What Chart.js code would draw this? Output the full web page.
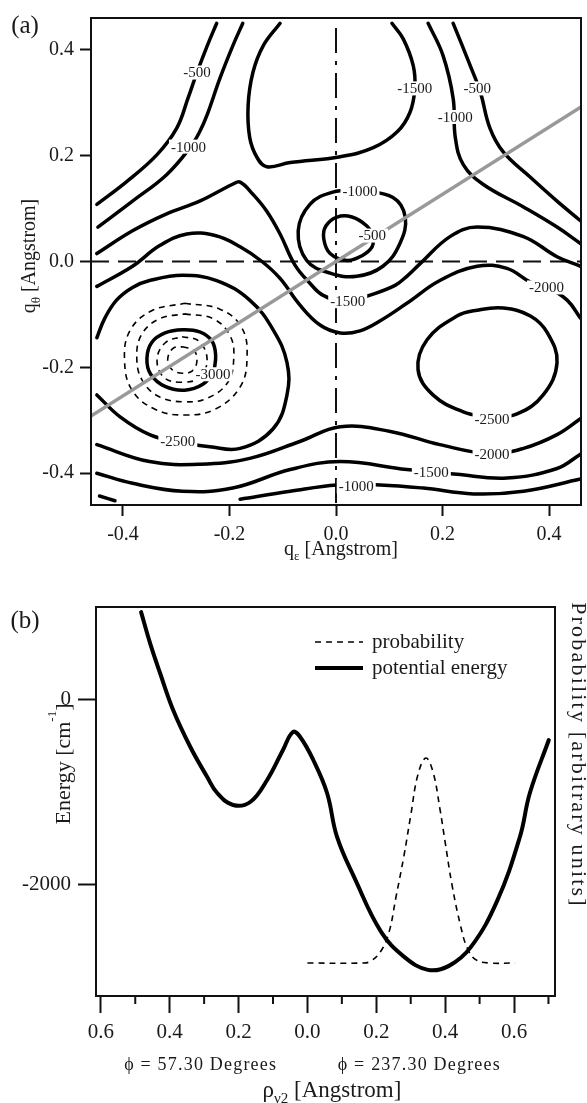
<!DOCTYPE html>
<html><head><meta charset="utf-8">
<script src="https://cdn.jsdelivr.net/npm/chart.js@4"></script>
<style>
html,body{margin:0;padding:0;background:#fff;width:587px;height:1103px;overflow:hidden}
#wa{position:absolute;left:0;top:0;width:587px;height:565px}
#wb{position:absolute;left:0;top:565px;width:587px;height:538px}
</style></head><body>
<div id="wa"><canvas id="ca" width="587" height="565"></canvas></div>
<div id="wb"><canvas id="cb" width="587" height="538"></canvas></div>
<script>
// ---------- Panel (a): contour lines, [q_eps, q_theta] in Angstrom ----------
const contourNeg500Left = [[-0.449,0.108],[-0.393,0.151],[-0.336,0.202],[-0.299,0.252],[-0.278,0.308],[-0.261,0.357],[-0.242,0.407],[-0.224,0.450]];
const contourNeg1000Left = [[-0.447,0.065],[-0.382,0.114],[-0.318,0.164],[-0.274,0.215],[-0.256,0.245],[-0.242,0.277],[-0.218,0.346],[-0.194,0.407],[-0.175,0.450]];
const contourNeg1500Top = [[-0.105,0.450],[-0.137,0.407],[-0.156,0.357],[-0.165,0.295],[-0.162,0.234],[-0.148,0.196],[-0.130,0.179],[-0.086,0.187],[0.008,0.198],[0.070,0.215],[0.115,0.245],[0.139,0.282],[0.148,0.327],[0.145,0.370],[0.126,0.421],[0.105,0.450]];
const contourNeg1000Right = [[0.173,0.450],[0.201,0.389],[0.220,0.308],[0.224,0.234],[0.239,0.183],[0.276,0.146],[0.352,0.103],[0.415,0.065],[0.459,0.034]];
const contourNeg500Right = [[0.220,0.450],[0.252,0.370],[0.271,0.320],[0.289,0.252],[0.314,0.207],[0.365,0.159],[0.415,0.114],[0.459,0.077]];
const contourNeg1500Mid = [[-0.449,0.015],[-0.382,0.058],[-0.318,0.090],[-0.256,0.114],[-0.194,0.146],[-0.180,0.150],[-0.156,0.127],[-0.130,0.095],[-0.105,0.052],[-0.077,-0.007],[-0.049,-0.041],[-0.024,-0.064],[0.021,-0.077],[0.060,-0.065],[0.111,-0.045],[0.133,-0.028],[0.158,-0.004],[0.214,0.047],[0.265,0.065],[0.352,0.047],[0.415,0.009],[0.459,-0.009]];
const contourNeg2000Upper = [[-0.449,-0.047],[-0.382,-0.009],[-0.331,0.030],[-0.280,0.052],[-0.227,0.049],[-0.180,0.028],[-0.139,0.000],[-0.105,-0.032],[-0.068,-0.082],[-0.030,-0.120],[0.008,-0.135],[0.045,-0.131],[0.083,-0.112],[0.133,-0.079],[0.195,-0.036],[0.265,-0.009],[0.321,-0.013],[0.365,-0.039],[0.397,-0.049],[0.434,-0.073],[0.459,-0.107]];
const contourNeg2000Lower = [[-0.449,-0.346],[-0.350,-0.378],[-0.256,-0.383],[-0.162,-0.372],[-0.068,-0.340],[0.008,-0.312],[0.102,-0.321],[0.195,-0.346],[0.289,-0.363],[0.352,-0.353],[0.415,-0.327],[0.459,-0.297]];
const contourNeg1500Lower = [[-0.449,-0.400],[-0.382,-0.419],[-0.288,-0.434],[-0.194,-0.428],[-0.086,-0.393],[0.008,-0.378],[0.133,-0.393],[0.177,-0.396],[0.227,-0.402],[0.321,-0.409],[0.415,-0.391],[0.459,-0.364]];
const contourNeg1000Bottom = [[-0.180,-0.449],[-0.086,-0.434],[0.002,-0.422],[0.083,-0.422],[0.164,-0.428],[0.258,-0.439],[0.352,-0.434],[0.459,-0.411]];
const contourNeg1000Corner = [[-0.444,-0.443],[-0.415,-0.452]];
const contourNeg2500Left = [[-0.449,-0.144],[-0.434,-0.107],[-0.412,-0.073],[-0.382,-0.049],[-0.350,-0.036],[-0.288,-0.026],[-0.224,-0.036],[-0.162,-0.073],[-0.118,-0.129],[-0.092,-0.191],[-0.092,-0.252],[-0.118,-0.316],[-0.180,-0.353],[-0.237,-0.350],[-0.293,-0.342],[-0.350,-0.327],[-0.406,-0.293],[-0.449,-0.252]];
const contourNeg2500Right = [[0.289,-0.295],[0.239,-0.284],[0.182,-0.252],[0.154,-0.204],[0.171,-0.148],[0.227,-0.103],[0.265,-0.092],[0.314,-0.088],[0.365,-0.103],[0.397,-0.135],[0.415,-0.191],[0.389,-0.252],[0.340,-0.288],[0.289,-0.295]];
const contourNeg3000 = [[-0.229,-0.208],[-0.250,-0.232],[-0.284,-0.243],[-0.321,-0.236],[-0.348,-0.213],[-0.355,-0.183],[-0.346,-0.153],[-0.321,-0.135],[-0.288,-0.129],[-0.256,-0.133],[-0.233,-0.150],[-0.226,-0.176],[-0.229,-0.208]];
const contourNeg1000Center = [[0.045,0.135],[0.107,0.121],[0.130,0.084],[0.120,0.034],[0.088,-0.009],[0.039,-0.028],[-0.011,-0.022],[-0.055,0.002],[-0.071,0.058],[-0.049,0.108],[-0.006,0.131],[0.045,0.135]];
const contourNeg500Center = [[0.070,0.048],[0.058,0.067],[0.030,0.084],[0.002,0.084],[-0.019,0.067],[-0.023,0.043],[-0.011,0.015],[0.021,0.002],[0.049,0.011],[0.068,0.028],[0.070,0.048]];
const ringDashed1 = [[-0.284,-0.079],[-0.218,-0.090],[-0.177,-0.125],[-0.167,-0.181],[-0.180,-0.237],[-0.227,-0.279],[-0.284,-0.290],[-0.340,-0.279],[-0.383,-0.243],[-0.397,-0.187],[-0.387,-0.131],[-0.346,-0.093],[-0.284,-0.079]];
const ringDashed2 = [[-0.284,-0.099],[-0.231,-0.108],[-0.199,-0.140],[-0.192,-0.183],[-0.203,-0.228],[-0.241,-0.258],[-0.284,-0.265],[-0.331,-0.256],[-0.363,-0.226],[-0.374,-0.183],[-0.365,-0.138],[-0.331,-0.108],[-0.284,-0.099]];
const ringDashed3 = [[-0.289,-0.142],[-0.258,-0.150],[-0.242,-0.185],[-0.256,-0.219],[-0.289,-0.228],[-0.323,-0.219],[-0.336,-0.185],[-0.320,-0.153],[-0.289,-0.142]];
const ringDashed4 = [[-0.288,-0.161],[-0.267,-0.168],[-0.261,-0.187],[-0.269,-0.206],[-0.288,-0.211],[-0.308,-0.204],[-0.316,-0.185],[-0.306,-0.164],[-0.288,-0.161]];
const axisLineH = [[-0.46,0],[0.46,0]];
const axisLineV = [[0,0.441],[0,-0.46]];
const cutLine = [[-0.46,-0.292],[0.46,0.292]];
const contourLabels = [
  ['-500',-0.261,0.357],['-1000',-0.277,0.217],['-1500',0.148,0.327],['-1000',0.224,0.273],
  ['-500',0.265,0.327],['-1000',0.045,0.133],['-500',0.068,0.049],['-1500',0.022,-0.075],
  ['-2000',0.395,-0.049],['-3000',-0.231,-0.213],['-2500',-0.297,-0.340],['-2500',0.293,-0.297],
  ['-2000',0.293,-0.363],['-1500',0.179,-0.398],['-1000',0.038,-0.425]];
const ticksA = [-0.4,-0.2,0.0,0.2,0.4];

// ---------- Panel (b): cut along phi ----------
const potentialX = [-0.483,-0.457,-0.428,-0.390,-0.340,-0.291,-0.262,-0.216,-0.166,-0.117,-0.071,-0.042,-0.021,0.017,0.057,0.086,0.138,0.214,0.281,0.350,0.411,0.475,0.551,0.617,0.646,0.701];
const potentialE = [935,602,280,-118,-516,-839,-1011,-1140,-1108,-871,-548,-355,-409,-656,-1011,-1484,-1935,-2505,-2774,-2914,-2871,-2667,-2172,-1484,-1011,-441];
const probX = [0.0,0.162,0.185,0.214,0.237,0.257,0.280,0.300,0.321,0.344,0.365,0.385,0.399,0.420,0.445,0.465,0.490,0.530,0.603];
const probP = [0,0,0.01,0.06,0.15,0.32,0.52,0.72,0.92,1.0,0.93,0.75,0.60,0.38,0.18,0.07,0.015,0,0];
const energyTicks = [0,-2000];
const minorTicksB = [-0.5,-0.3,-0.1,0.1,0.3,0.5,0.7];
const phiLabels = [['\u03D5 = 57.30 Degrees',-0.31],['\u03D5 = 237.30 Degrees',0.325]];
const legendNames = ['probability','potential energy'];

// ---------- helpers ----------
const FAM = "'Liberation Serif', 'Times New Roman', serif";
const INK = '#1a1a1a';
Chart.defaults.font.family = FAM;
Chart.defaults.color = INK;
function pts(a){ return a.map(p => ({x:p[0], y:p[1]})); }
function richText(ctx, segs, cx, cy, rot, spacing){
  ctx.save(); ctx.translate(cx, cy); if (rot) ctx.rotate(rot);
  ctx.letterSpacing = (spacing||0) + 'px';
  let total = 0;
  const ws = segs.map(s => { ctx.font = s.f; const w = ctx.measureText(s.t).width; total += w; return w; });
  let x = -total/2;
  ctx.textAlign = 'left'; ctx.textBaseline = 'alphabetic'; ctx.fillStyle = INK;
  segs.forEach((s,i) => { ctx.font = s.f; ctx.fillText(s.t, x, s.dy); x += ws[i]; });
  ctx.restore();
}
function solid(data, w){ return {data: pts(data), showLine:true, borderColor:'#000', borderWidth: w||3.5, pointRadius:0, pointHoverRadius:0, tension:0.4, fill:false, borderCapStyle:'round', borderJoinStyle:'round'}; }
function dashed(data){ return Object.assign(solid(data, 1.6), {borderDash:[6,5], borderCapStyle:'butt'}); }

const framePlugin = {
  id:'frame',
  afterDraw(chart){
    const {ctx, chartArea:a} = chart;
    ctx.save(); ctx.strokeStyle = '#111'; ctx.lineWidth = 2;
    ctx.strokeRect(a.left, a.top, a.right - a.left, a.bottom - a.top);
    ctx.restore();
  }
};

// ---------- Chart (a) ----------
const contourSets = [contourNeg500Left, contourNeg1000Left, contourNeg1500Top, contourNeg1000Right, contourNeg500Right,
  contourNeg1500Mid, contourNeg2000Upper, contourNeg2000Lower, contourNeg1500Lower, contourNeg1000Bottom, contourNeg1000Corner,
  contourNeg2500Left, contourNeg2500Right, contourNeg3000, contourNeg1000Center, contourNeg500Center];
const ringSets = [ringDashed1, ringDashed2, ringDashed3, ringDashed4];
const dsA = [];
dsA.push(Object.assign(solid(cutLine, 3.5), {borderColor:'#999', tension:0, order:0, borderCapStyle:'butt'}));
contourSets.forEach(c => dsA.push(Object.assign(solid(c), {order:2})));
ringSets.forEach(c => dsA.push(Object.assign(dashed(c), {order:3})));
dsA.push(Object.assign(solid(axisLineH, 2), {tension:0, borderDash:[18,9], borderCapStyle:'butt', borderColor:'#111', order:4}));
dsA.push(Object.assign(solid(axisLineV, 2), {tension:0, borderDash:[25,8,4,8], borderCapStyle:'butt', borderColor:'#111', order:4}));

const panelAPlugin = {
  id:'panelA',
  afterDatasetsDraw(chart){
    const {ctx, scales:{x, y}} = chart;
    ctx.save();
    ctx.font = '15px ' + FAM; ctx.textAlign = 'center'; ctx.textBaseline = 'middle';
    contourLabels.forEach(([t, lx, ly]) => {
      const px = x.getPixelForValue(lx), py = y.getPixelForValue(ly);
      const w = ctx.measureText(t).width;
      ctx.fillStyle = '#fff'; ctx.fillRect(px - w/2 - 2, py - 7, w + 4, 14);
      ctx.fillStyle = INK; ctx.fillText(t, px, py + 1);
    });
    ctx.restore();
  },
  afterDraw(chart){
    const ctx = chart.ctx;
    richText(ctx, [{t:'(a)', f:'25px '+FAM, dy:9}], 25, 24, 0);
    richText(ctx, [{t:'q', f:'20px '+FAM, dy:5},{t:'\u03B5', f:'13px '+FAM, dy:10},{t:' [Angstrom]', f:'20px '+FAM, dy:5}], 341, 550, 0);
    richText(ctx, [{t:'q', f:'20px '+FAM, dy:7},{t:'\u03B8', f:'13px '+FAM, dy:12},{t:' [Angstrom]', f:'20px '+FAM, dy:7}], 28, 256, -Math.PI/2);
  }
};

new Chart(document.getElementById('ca'), {
  type:'scatter',
  data:{datasets: dsA},
  options:{
    responsive:false, animation:false, events:[],
    layout:{padding:{top:12, right:6, left:0, bottom:0}},
    plugins:{legend:{display:false}, tooltip:{enabled:false}},
    scales:{
      x:{type:'linear', min:-0.46, max:0.46,
         afterBuildTicks(s){ s.ticks = ticksA.map(v => ({value:v})); },
         afterFit(s){ s.height = 60; },
         ticks:{font:{size:20}, color:INK, padding:7, maxRotation:0, callback:v => v.toFixed(1)},
         grid:{drawOnChartArea:false, tickLength:11, tickWidth:2, tickColor:'#111'},
         border:{display:true, color:'#111', width:2}},
      y:{type:'linear', min:-0.46, max:0.46,
         afterBuildTicks(s){ s.ticks = ticksA.map(v => ({value:v})); },
         afterFit(s){ s.width = 91; },
         ticks:{font:{size:20}, color:INK, padding:6, callback:v => v.toFixed(1)},
         grid:{drawOnChartArea:false, tickLength:11, tickWidth:2, tickColor:'#111'},
         border:{display:true, color:'#111', width:2}}
    }
  },
  plugins:[panelAPlugin, framePlugin]
});

// ---------- Chart (b) ----------
const panelBPlugin = {
  id:'panelB',
  afterDraw(chart){
    const {ctx, chartArea:a, scales:{x}} = chart;
    ctx.save(); ctx.strokeStyle = '#111'; ctx.lineWidth = 2;
    minorTicksB.forEach(v => {
      const px = x.getPixelForValue(v);
      ctx.beginPath(); ctx.moveTo(px, a.bottom); ctx.lineTo(px, a.bottom + 8); ctx.stroke();
    });
    ctx.restore();
    // legend
    chart.data.datasets.forEach((ds, i) => {
      const yy = a.top + 35 + i*26;
      ctx.save(); ctx.strokeStyle = '#000'; ctx.lineWidth = ds.borderDash ? 1.6 : 4;
      ctx.setLineDash(ds.borderDash || []);
      ctx.beginPath(); ctx.moveTo(a.left + 219, yy); ctx.lineTo(a.left + 267, yy); ctx.stroke();
      ctx.font = '21px ' + FAM; const w = ctx.measureText(ds.label).width;
      ctx.restore();
      richText(ctx, [{t:ds.label, f:'21px '+FAM, dy:6}], a.left + 276 + w/2, yy, 0);
    });
    richText(ctx, [{t:'(b)', f:'25px '+FAM, dy:9}], 25, 54, 0);
    richText(ctx, [{t:'Energy [cm', f:'22px '+FAM, dy:8},{t:'-1', f:'13px '+FAM, dy:-6},{t:']', f:'22px '+FAM, dy:8}], 62, 199, -Math.PI/2);
    richText(ctx, [{t:'Probability [arbitrary units]', f:'22px '+FAM, dy:7}], 579, 190, Math.PI/2, 2.2);
    phiLabels.forEach(([t, v]) => richText(ctx, [{t:t, f:'18px '+FAM, dy:6}], x.getPixelForValue(v), 499, 0, 1.2));
    richText(ctx, [{t:'\u03C1', f:'23px '+FAM, dy:6},{t:'\u03BD2', f:'15px '+FAM, dy:12},{t:' [Angstrom]', f:'23px '+FAM, dy:6}], 332, 526, 0);
  }
};

new Chart(document.getElementById('cb'), {
  type:'scatter',
  data:{datasets:[
    {label:legendNames[0], yAxisID:'y2', data: probX.map((v,i) => ({x:v, y:probP[i]})), showLine:true, borderColor:'#000', borderWidth:1.6, borderDash:[6,5], pointRadius:0, pointHoverRadius:0, tension:0.4, order:0},
    {label:legendNames[1], yAxisID:'y', data: potentialX.map((v,i) => ({x:v, y:potentialE[i]})), showLine:true, borderColor:'#000', borderWidth:4, pointRadius:0, pointHoverRadius:0, tension:0.4, borderCapStyle:'round', order:1}
  ]},
  options:{
    responsive:false, animation:false, events:[],
    layout:{padding:{top:42, right:0, left:0, bottom:0}},
    plugins:{legend:{display:false}, tooltip:{enabled:false}},
    scales:{
      x:{type:'linear', min:-0.614, max:0.719,
         afterBuildTicks(s){ s.ticks = [-0.6,-0.4,-0.2,0,0.2,0.4,0.6].map(v => ({value:v})); },
         afterFit(s){ s.height = 107; },
         ticks:{font:{size:21}, color:INK, padding:7, maxRotation:0, callback:v => Math.abs(v).toFixed(1)},
         grid:{drawOnChartArea:false, tickLength:17, tickWidth:2, tickColor:'#111'},
         border:{display:true, color:'#111', width:2}},
      y:{type:'linear', position:'left', min:-3195, max:990,
         afterBuildTicks(s){ s.ticks = energyTicks.map(v => ({value:v})); },
         afterFit(s){ s.width = 96; },
         ticks:{font:{size:21}, color:INK, padding:7, callback:v => String(v)},
         grid:{drawOnChartArea:false, tickLength:18, tickWidth:2, tickColor:'#111'},
         border:{display:true, color:'#111', width:2}},
      y2:{type:'linear', position:'right', min:-0.161, max:1.737,
         afterFit(s){ s.width = 32; },
         ticks:{display:false}, grid:{display:false}, border:{display:false}}
    }
  },
  plugins:[panelBPlugin, framePlugin]
});
</script>
</body></html>
